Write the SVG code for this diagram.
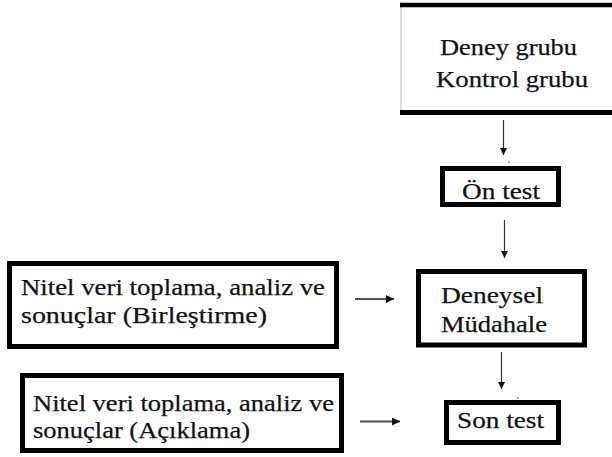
<svg xmlns="http://www.w3.org/2000/svg" width="612" height="457" viewBox="0 0 612 457">
  <style>
    .box { fill: #ffffff; stroke: #000000; stroke-width: 5; }
    .lbl { font-family: "Liberation Serif", "Times New Roman", serif; font-size: 24px; fill: #111111; stroke: #111111; stroke-width: 0.25; }
    .vline { stroke: #333333; stroke-width: 1.2; fill: none; }
    .hline { stroke: #555555; stroke-width: 2; fill: none; }
  </style>
  <defs>
    <marker id="headV" viewBox="0 0 10 10" refX="10" refY="5" markerWidth="7" markerHeight="7" markerUnits="userSpaceOnUse" orient="auto">
      <path d="M0,0 L10,5 L0,10 z" fill="#111111"/>
    </marker>
    <marker id="headH" viewBox="0 0 10 10" refX="10" refY="5" markerWidth="8" markerHeight="8" markerUnits="userSpaceOnUse" orient="auto">
      <path d="M0,0 L10,5 L0,10 z" fill="#111111"/>
    </marker>
  </defs>
  <rect width="612" height="457" fill="#ffffff"/>

  <!-- groups box (runs past the right edge) -->
  <g id="gruplar">
    <rect x="401" y="5" width="215" height="107.5" fill="#ffffff" stroke="none"/>
    <line x1="401" y1="7" x2="401" y2="110" stroke="#bbbbbb" stroke-width="1"/>
    <line x1="400" y1="5" x2="612" y2="5" stroke="#000" stroke-width="4.5"/>
    <line x1="400" y1="112.5" x2="612" y2="112.5" stroke="#000" stroke-width="5"/>
    <text class="lbl" x="440" y="55" textLength="137" lengthAdjust="spacingAndGlyphs">Deney grubu</text>
    <text class="lbl" x="436" y="87" textLength="152" lengthAdjust="spacingAndGlyphs">Kontrol grubu</text>
  </g>

  <g id="on-test">
    <rect class="box" x="442.5" y="168.5" width="116" height="36"/>
    <text class="lbl" x="462" y="199" textLength="78" lengthAdjust="spacingAndGlyphs">Ön test</text>
  </g>

  <g id="deneysel-mudahale">
    <rect class="box" x="418.5" y="271.5" width="166" height="73.5"/>
    <text class="lbl" x="441" y="303" textLength="102" lengthAdjust="spacingAndGlyphs">Deneysel</text>
    <text class="lbl" x="441" y="332" textLength="106" lengthAdjust="spacingAndGlyphs">Müdahale</text>
  </g>

  <g id="son-test">
    <rect class="box" x="446.5" y="402.5" width="112" height="40"/>
    <text class="lbl" x="457" y="428" textLength="87" lengthAdjust="spacingAndGlyphs">Son test</text>
  </g>

  <g id="nitel-birlestirme">
    <rect class="box" x="9.5" y="263.5" width="327" height="83"/>
    <text class="lbl" x="21" y="295" textLength="304" lengthAdjust="spacingAndGlyphs">Nitel veri toplama, analiz ve</text>
    <text class="lbl" x="21" y="323" textLength="246" lengthAdjust="spacingAndGlyphs">sonuçlar (Birleştirme)</text>
  </g>

  <g id="nitel-aciklama">
    <rect class="box" x="22.5" y="375.5" width="319" height="75"/>
    <text class="lbl" x="33" y="411" textLength="301" lengthAdjust="spacingAndGlyphs">Nitel veri toplama, analiz ve</text>
    <text class="lbl" x="33" y="438" textLength="217" lengthAdjust="spacingAndGlyphs">sonuçlar (Açıklama)</text>
  </g>

  <g id="connectors">
    <line class="vline" x1="503.5" y1="120" x2="503.5" y2="155" marker-end="url(#headV)"/>
    <line class="vline" x1="504.5" y1="220" x2="504.5" y2="258" marker-end="url(#headV)"/>
    <line class="vline" x1="501.5" y1="352" x2="501.5" y2="389" marker-end="url(#headV)"/>
    <line class="hline" x1="355" y1="299" x2="394" y2="299" marker-end="url(#headH)"/>
    <line class="hline" x1="360" y1="421.5" x2="400" y2="421.5" marker-end="url(#headH)"/>
    <circle cx="509" cy="162" r="0.8" fill="#444"/>
    <circle cx="518" cy="398" r="0.8" fill="#444"/>
  </g>
</svg>
